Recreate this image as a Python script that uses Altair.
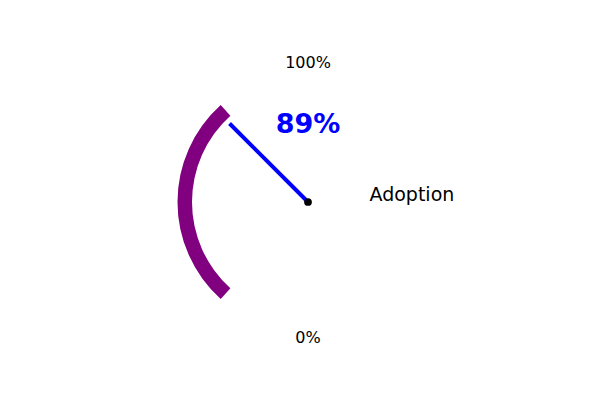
import math
import altair as alt
import pandas as pd

# ---- data ----
gauge_label = "Adoption"
gauge_value = [89]                 # percent shown in the gauge
arc_theta_deg = [222, 318]         # purple band start / end (0 = 12 o'clock, clockwise)
needle_theta_deg = [315]           # needle direction
tick_labels = ["0%", "100%"]

# ---- layout (data units: 1 unit = 125 px) ----
xs = alt.Scale(domain=[-2.4, 2.272], nice=False, zero=False)
ys = alt.Scale(domain=[-1.52, 1.552], nice=False, zero=False)
needle_len = 0.888

arc_df = pd.DataFrame({
    "cx": [0.0], "cy": [0.0],
    "t0": [math.radians(arc_theta_deg[0])],
    "t1": [math.radians(arc_theta_deg[1])],
})
t = math.radians(needle_theta_deg[0])
needle_df = pd.DataFrame({
    "x": [0.0], "y": [0.0],
    "x2": [needle_len * math.sin(t)], "y2": [needle_len * math.cos(t)],
})
hub_df = pd.DataFrame({"x": [0.0], "y": [0.0]})
tick_df = pd.DataFrame({"x": [0.0, 0.0], "y": [-1.1304, 1.0696], "label": tick_labels})
value_df = pd.DataFrame({"x": [0.0], "y": [0.5544], "label": [f"{gauge_value[0]}%"]})
name_df = pd.DataFrame({"x": [0.492], "y": [0.008], "label": [gauge_label]})

X = lambda f: alt.X(f, type="quantitative", scale=xs, axis=None)
Y = lambda f: alt.Y(f, type="quantitative", scale=ys, axis=None)

arc = alt.Chart(arc_df).mark_arc(radius=130.5, radius2=116, color="#800080").encode(
    x=X("cx"), y=Y("cy"),
    theta=alt.Theta("t0:Q", scale=None),
    theta2=alt.Theta2("t1:Q"),
)
needle = alt.Chart(needle_df).mark_rule(color="#0000ff", strokeWidth=4, strokeCap="butt").encode(
    x=X("x"), y=Y("y"), x2=alt.X2("x2:Q"), y2=alt.Y2("y2:Q"),
)
hub = alt.Chart(hub_df).mark_circle(color="black", size=60, opacity=1).encode(x=X("x"), y=Y("y"))
ticks = alt.Chart(tick_df).mark_text(font="DejaVu Sans", fontSize=16, baseline="alphabetic",
                                     align="center", color="black").encode(
    x=X("x"), y=Y("y"), text="label:N")
value = alt.Chart(value_df).mark_text(font="DejaVu Sans", fontSize=27, fontWeight="bold",
                                      baseline="alphabetic", align="center", color="#0000ff").encode(
    x=X("x"), y=Y("y"), text="label:N")
name = alt.Chart(name_df).mark_text(font="DejaVu Sans", fontSize=19, baseline="alphabetic",
                                    align="left", color="black").encode(
    x=X("x"), y=Y("y"), text="label:N")

chart = alt.layer(arc, needle, hub, ticks, value, name).properties(
    width=584, height=384, padding=0, autosize=alt.AutoSizeParams(type="none"),
    background="white",
).configure_view(strokeWidth=0)

chart.save("out.html", embed_options={"renderer": "svg", "actions": False})
